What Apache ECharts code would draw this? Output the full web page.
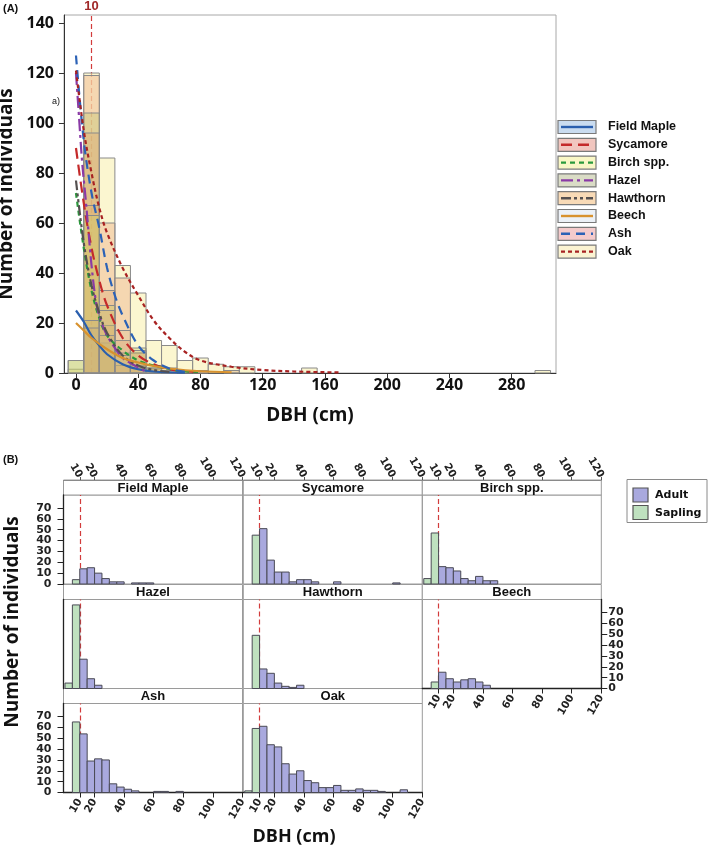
<!DOCTYPE html>
<html>
<head>
<meta charset="utf-8">
<script src="https://cdn.jsdelivr.net/npm/echarts@6.0.0/dist/echarts.min.js"></script>
<style>
html,body{margin:0;padding:0;background:#ffffff;}
#chart{width:709px;height:847px;}
</style>
</head>
<body>
<div id="chart"></div>
<script>
// ================= Panel A : 10-cm DBH classes (bin centres) =================
const binCentersA = [0,10,20,30,40,50,60,70,80,90,100,110,120,130,140,150,160,170,180,190,200,210,220,230,240,250,260,270,280,290,300];
const histA_FieldMaple = [0,18,25,7,2,2,1];
const histA_Sycamore   = [0,96,33,13,8,2,2,0,0,0,1];
const histA_Birch      = [5,63,27,8,10,3];
const histA_Hazel      = [5,104,12];
const histA_Hawthorn   = [0,67,19,3,3];
const histA_Beech      = [0,21,15,17,9];
const histA_Ash        = [0,119,60,38,8,1.5,1,1,1];
const histA_Oak        = [1.5,120,86,43,32,13,11,5,6,3.5,2.5,2.5,0,0,0,2,0,0,0,0,0,0,0,0,0,0,0,0,0,0,1];

// fitted curves, [DBH, number of individuals]
const fitA_FieldMaple = [[0,25],[5,20.5],[10,15],[15,11],[20,7.5],[30,3.5],[40,1.5],[50,0.6],[70,0.1]];
const fitA_Sycamore   = [[0,90],[5,68],[10,50],[15,37],[20,27],[30,14],[40,7],[50,3.5],[60,1.5],[80,0.3]];
const fitA_Birch      = [[0,72],[5,50],[10,33],[15,22],[20,15],[30,9],[40,5],[50,3],[65,1],[80,0.4]];
const fitA_Hazel      = [[0,120],[2,102],[4,84],[6,71],[8,57],[10,43],[13,28],[16,21],[20,15],[25,10],[30,6],[35,4],[45,0.5]];
const fitA_Hawthorn   = [[0,77],[5,52],[10,35],[15,24],[20,16],[30,7],[40,3],[50,1.2],[60,0.4]];
const fitA_Beech      = [[0,20],[5,17],[10,14],[20,9.5],[30,6],[40,4.2],[50,2.8],[60,1.8],[80,0.7],[100,0.3]];
const fitA_Ash        = [[0,127],[5,93],[10,72],[15,58],[20,42],[25,31],[30,23],[40,11],[50,5],[60,1.8],[70,0.5]];
const fitA_Oak        = [[0,121],[5,97],[10,80],[15,66],[20,56],[30,42],[40,31],[50,21],[60,14],[70,8.5],[80,5],[100,2.5],[120,1.2],[140,0.6],[170,0.2]];

const ticksA_x = [0,40,80,120,160,200,240,280];
const ticksA_y = [0,20,40,60,80,100,120,140];
const markDBH = 10;

// ================= Panel B : 5-cm DBH classes (bin starts) =================
const saplingBinStart = [0,5];
const adultBinStart = [10,15,20,25,30,35,40,45,50,55,60,65,70,75,80,85,90,95,100,105,110,115];
const sapling_FieldMaple = [0,4];
const adult_FieldMaple   = [14,15,10,5,2,2,0,1,1,1];
const sapling_Sycamore   = [0,45];
const adult_Sycamore     = [51,22,11,11,2,4,4,2,0,0,2,0,0,0,0,0,0,0,1];
const sapling_Birch      = [5,47];
const adult_Birch        = [16,15,12,5,3,7,3,3];
const sapling_Hazel      = [5,77];
const adult_Hazel        = [27,9,3];
const sapling_Hawthorn   = [0,49];
const adult_Hawthorn     = [18,14,5,2,1,3];
const sapling_Beech      = [0,6];
const adult_Beech        = [15,9,6,8,9,6,3];
const sapling_Ash        = [0,65];
const adult_Ash          = [54,29,31,30,8,5,3,1.5,0,0,1,1,0,1];
const sapling_Oak        = [1.5,59];
const adult_Oak          = [61,44,42,26.5,17,20,11,9,4.5,4.5,6.5,2,2,3.3,2,2,1,0,0,2.5];

const ticksB_x = [10,20,40,60,80,100,120];
const ticksB_y = [0,10,20,30,40,50,60,70];

// ================= styles =================
const speciesA = ['Field Maple','Sycamore','Birch spp.','Hazel','Hawthorn','Beech','Ash','Oak'];
const histA = [histA_FieldMaple,histA_Sycamore,histA_Birch,histA_Hazel,histA_Hawthorn,histA_Beech,histA_Ash,histA_Oak];
const fitA = [fitA_FieldMaple,fitA_Sycamore,fitA_Birch,fitA_Hazel,fitA_Hawthorn,fitA_Beech,fitA_Ash,fitA_Oak];
const styleA = [
  {fill:'rgba(196,166,126,0.20)', swatch:'#cadcf0', line:'#2a5fae', dash:null},
  {fill:'rgba(222,162,112,0.35)', swatch:'#f1c6bf', line:'#c42a2a', dash:[11,6]},
  {fill:'rgba(206,212,104,0.34)', swatch:'#f9f7c6', line:'#2a9a3c', dash:[5,4]},
  {fill:'rgba(190,198,112,0.38)', swatch:'#dadcc6', line:'#8a3aa6', dash:[12,4,3,4]},
  {fill:'rgba(230,168,100,0.30)', swatch:'#f8dab6', line:'#555050', dash:[10,3,3,3,3,3]},
  {fill:'rgba(200,170,130,0.20)', swatch:'#ecf1f7', line:'#d8922e', dash:null},
  {fill:'rgba(240,184,145,0.50)', swatch:'#f4cbcc', line:'#2c62b6', dash:[9,6]},
  {fill:'rgba(248,240,176,0.60)', swatch:'#fbf3d2', line:'#a82222', dash:[4,3]}
];
const drawOrderA = [7,6,3,1,4,2,5,0];  // Oak underneath
const BAR_STROKE_A = '#8a8a8a';
const ADULT_FILL = '#a9a9de', SAPLING_FILL = '#bfe1bf', BAR_STROKE_B = '#4a4a55';
const RED = '#d23c3c';
const FT = 'Open Sans', FB = 'DejaVu Sans', FS = 'Liberation Sans';

function histItem(width, fill, stroke, centred) {
  return function (params, api) {
    const x = api.value(0), v = api.value(1);
    const x0 = centred ? x - width / 2 : x;
    const a = api.coord([x0, v]);
    const b = api.coord([x0 + width, 0]);
    return {type:'rect', shape:{x:a[0], y:a[1], width:b[0]-a[0], height:b[1]-a[1]},
            style:{fill:fill, stroke:stroke, lineWidth:1}};
  };
}

const grids = [], xAxes = [], yAxes = [], series = [], graphics = [];

// ---------- Panel A ----------
grids.push({left:64, top:15, width:492, height:358, show:true, borderColor:'#a8a8a8', borderWidth:1, outerBoundsMode:'none', containLabel:false});
xAxes.push({gridIndex:0, type:'value', min:-7.7, max:308.5, splitLine:{show:false},
  axisLine:{show:true, onZero:false, lineStyle:{color:'#333', width:1}},
  axisTick:{show:true, length:5, customValues:ticksA_x, lineStyle:{color:'#333'}},
  axisLabel:{customValues:ticksA_x, fontFamily:FT, fontWeight:'bold', fontSize:16, color:'#111', margin:4},
  name:'DBH (cm)', nameLocation:'middle', nameGap:33,
  nameTextStyle:{fontFamily:FT, fontWeight:'bold', fontSize:19, color:'#111'}});
yAxes.push({gridIndex:0, type:'value', min:0, max:143.2, splitLine:{show:false},
  axisLine:{show:true, onZero:false, lineStyle:{color:'#333', width:1}},
  axisTick:{show:true, length:5, customValues:ticksA_y, lineStyle:{color:'#333'}},
  axisLabel:{customValues:ticksA_y, fontFamily:FT, fontWeight:'bold', fontSize:16, color:'#111', margin:10},
  name:'Number of individuals', nameLocation:'middle', nameGap:45,
  nameTextStyle:{fontFamily:FT, fontWeight:'bold', fontSize:19, color:'#111'}});

// histogram layers
drawOrderA.forEach((k) => {
  const arr = histA[k];
  series.push({type:'custom', name:speciesA[k]+' hist', xAxisIndex:0, yAxisIndex:0, z:2,
    renderItem: histItem(10, styleA[k].fill, BAR_STROKE_A, true),
    encode:{x:0, y:1},
    data: binCentersA.map((c,i)=>[c, arr[i]]).filter(d=>d[1]>0)});
});
// fitted curves
for (let k = 0; k < speciesA.length; k++) {
  series.push({type:'line', name:speciesA[k], xAxisIndex:0, yAxisIndex:0, z:4,
    smooth:0.35, symbol:'none', showSymbol:false,
    lineStyle:{color:styleA[k].line, width:2.2, type: styleA[k].dash ? styleA[k].dash : 'solid'},
    data: fitA[k]});
}
// reference line at DBH = 10
series.push({type:'line', xAxisIndex:0, yAxisIndex:0, data:[[markDBH,0]], symbol:'none', showSymbol:false,
  lineStyle:{opacity:0},
  markLine:{silent:true, z:1, symbol:'none', animation:false,
    lineStyle:{color:RED, type:[5,3], width:1.2},
    label:{show:true, position:'end', formatter:String(markDBH), color:'#a02828', fontFamily:FS, fontWeight:'bold', fontSize:13, distance:2},
    data:[{xAxis:markDBH}]}});

// legend A
speciesA.forEach((s, i) => {
  const yc = 127 + i * 17.8;
  graphics.push({type:'rect', shape:{x:558, y:yc-6.5, width:38, height:13}, style:{fill:styleA[i].swatch, stroke:'#7a7a7a', lineWidth:1.2}});
  graphics.push({type:'line', shape:{x1:561, y1:yc, x2:593, y2:yc}, style:{stroke:styleA[i].line, lineWidth:2.4, lineDash:styleA[i].dash}});
  graphics.push({type:'text', x:608, y:yc, style:{text:s, font:'bold 12.5px "Liberation Sans"', fill:'#111', align:'left', verticalAlign:'middle'}});
});
graphics.push({type:'text', x:3, y:9, style:{text:'(A)', font:'bold 11px "Liberation Sans"', fill:'#111', align:'left', verticalAlign:'middle'}});
graphics.push({type:'text', x:52, y:102, style:{text:'a)', font:'9px "Liberation Sans"', fill:'#111', align:'left', verticalAlign:'middle'}});

// ---------- Panel B ----------
const colLeft = [63.5, 243.3, 422.3], colW = 179;
const rowTop = [495, 599.5, 703.5], plotH = 89, stripH = 15;
const panelsB = [
  {name:'Field Maple', col:0, row:0, sap:sapling_FieldMaple, ad:adult_FieldMaple, top:true, y:'left'},
  {name:'Sycamore',    col:1, row:0, sap:sapling_Sycamore,   ad:adult_Sycamore,   top:true},
  {name:'Birch spp.',  col:2, row:0, sap:sapling_Birch,      ad:adult_Birch,      top:true},
  {name:'Hazel',       col:0, row:1, sap:sapling_Hazel,      ad:adult_Hazel,      y:'line'},
  {name:'Hawthorn',    col:1, row:1, sap:sapling_Hawthorn,   ad:adult_Hawthorn},
  {name:'Beech',       col:2, row:1, sap:sapling_Beech,      ad:adult_Beech,      bottom:true, y:'right'},
  {name:'Ash',         col:0, row:2, sap:sapling_Ash,        ad:adult_Ash,        bottom:true, y:'left'},
  {name:'Oak',         col:1, row:2, sap:sapling_Oak,        ad:adult_Oak,        bottom:true}
];
const tickLabB = {fontFamily:FB, fontWeight:'bold', fontSize:10.5, color:'#222'};

panelsB.forEach((p, k) => {
  const gi = k + 1;
  const left = colLeft[p.col], top = rowTop[p.row];
  grids.push({left:left, top:top, width:colW, height:plotH, show:true, borderColor:'#9a9a9a', borderWidth:1, outerBoundsMode:'none', containLabel:false});
  const xa = {gridIndex:gi, type:'value', min:-1, max:120, splitLine:{show:false}, show:true,
    axisLine:{show:false, onZero:false}, axisTick:{show:false}, axisLabel:{show:false}};
  if (p.top) {
    Object.assign(xa, {position:'top', offset:stripH,
      axisLine:{show:true, onZero:false, lineStyle:{color:'#8a8a8a'}},
      axisTick:{show:true, length:3, customValues:ticksB_x, lineStyle:{color:'#555'}},
      axisLabel:Object.assign({show:true, rotate:60, customValues:ticksB_x, margin:3}, tickLabB)});
  } else if (p.bottom) {
    Object.assign(xa, {position:'bottom',
      axisLine:{show:true, onZero:false, lineStyle:{color:'#222', width:1.3}},
      axisTick:{show:true, length:5, customValues:ticksB_x, lineStyle:{color:'#222'}},
      axisLabel:Object.assign({show:true, rotate:60, customValues:ticksB_x, margin:7}, tickLabB)});
  }
  xAxes.push(xa);
  const ya = {gridIndex:gi, type:'value', min:0, max:82, splitLine:{show:false},
    axisLine:{show:false, onZero:false}, axisTick:{show:false}, axisLabel:{show:false}};
  if (p.y === 'left' || p.y === 'right') {
    Object.assign(ya, {position:p.y,
      axisLine:{show:true, onZero:false, lineStyle:{color:'#222', width:1.3}},
      axisTick:{show:true, length:6, customValues:ticksB_y, lineStyle:{color:'#222'}},
      axisLabel:Object.assign({show:true, customValues:ticksB_y, margin:p.y==='left'?12:7}, tickLabB, {fontSize:11})});
  } else if (p.y === 'line') {
    Object.assign(ya, {position:'left', axisLine:{show:true, onZero:false, lineStyle:{color:'#222', width:1.3}}});
  }
  yAxes.push(ya);

  series.push({type:'line', xAxisIndex:gi, yAxisIndex:gi, data:[[markDBH,0]], symbol:'none', showSymbol:false,
    lineStyle:{opacity:0},
    markLine:{silent:true, z:1, symbol:'none', animation:false, label:{show:false},
      lineStyle:{color:RED, type:[5,3], width:1.2}, data:[{xAxis:markDBH}]}});
  series.push({type:'custom', name:'Sapling', xAxisIndex:gi, yAxisIndex:gi, z:3,
    renderItem: histItem(5, SAPLING_FILL, BAR_STROKE_B, false), encode:{x:0, y:1},
    data: saplingBinStart.map((b,i)=>[b, p.sap[i]]).filter(d=>d[1]>0)});
  series.push({type:'custom', name:'Adult', xAxisIndex:gi, yAxisIndex:gi, z:3,
    renderItem: histItem(5, ADULT_FILL, BAR_STROKE_B, false), encode:{x:0, y:1},
    data: adultBinStart.map((b,i)=>[b, p.ad[i]]).filter(d=>d[1]>0)});

  // strip header
  graphics.push({type:'rect', shape:{x:left, y:top-stripH, width:colW, height:stripH}, style:{fill:'#ffffff', stroke:'#9a9a9a', lineWidth:1}, z:0});
  graphics.push({type:'text', x:left+colW/2, y:top-stripH/2+0.5, style:{text:p.name, font:'bold 13px "Liberation Sans"', fill:'#111', align:'center', verticalAlign:'middle'}});
});

// legend B
graphics.push({type:'rect', shape:{x:627, y:479.5, width:80, height:43}, style:{fill:'#fff', stroke:'#8a8a8a', lineWidth:1}});
graphics.push({type:'rect', shape:{x:633, y:488, width:15, height:14}, style:{fill:ADULT_FILL, stroke:'#555', lineWidth:1.2}});
graphics.push({type:'rect', shape:{x:633, y:505.5, width:15, height:14}, style:{fill:SAPLING_FILL, stroke:'#555', lineWidth:1.2}});
graphics.push({type:'text', x:655, y:495.5, style:{text:'Adult', font:'bold 11px "DejaVu Sans"', fill:'#111', align:'left', verticalAlign:'middle'}});
graphics.push({type:'text', x:655, y:513, style:{text:'Sapling', font:'bold 11px "DejaVu Sans"', fill:'#111', align:'left', verticalAlign:'middle'}});

graphics.push({type:'text', x:3, y:460, style:{text:'(B)', font:'bold 11px "Liberation Sans"', fill:'#111', align:'left', verticalAlign:'middle'}});
graphics.push({type:'text', x:13, y:622, rotation:Math.PI/2, style:{text:'Number of individuals', font:'bold 19px "Open Sans"', fill:'#111', align:'center', verticalAlign:'middle'}});
graphics.push({type:'text', x:294, y:837, style:{text:'DBH (cm)', font:'bold 18px "Open Sans"', fill:'#111', align:'center', verticalAlign:'middle'}});

const chart = echarts.init(document.getElementById('chart'), null, {renderer:'canvas', width:709, height:847});
chart.setOption({
  animation:false,
  backgroundColor:'#ffffff',
  grid:grids, xAxis:xAxes, yAxis:yAxes, series:series,
  graphic:{elements:graphics}
});
</script>
</body>
</html>
